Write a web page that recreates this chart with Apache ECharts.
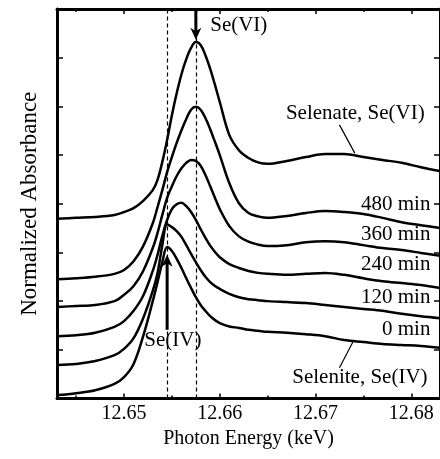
<!DOCTYPE html>
<html>
<head>
<meta charset="utf-8">
<script src="https://cdn.jsdelivr.net/npm/echarts@6/dist/echarts.min.js"></script>
<style>
html, body { margin: 0; padding: 0; background: #fff; }
#chart { width: 440px; height: 459px; }
</style>
</head>
<body>
<div id="chart"></div>
<script>
// photon energy (keV), shared by every spectrum
var energy = [12.643, 12.645, 12.647, 12.649, 12.650, 12.651, 12.652, 12.653, 12.6535, 12.654,
    12.6545, 12.655, 12.6555, 12.656, 12.6565, 12.657, 12.6575, 12.658, 12.6585, 12.659,
    12.6595, 12.660, 12.661, 12.662, 12.663, 12.664, 12.665, 12.667, 12.669, 12.671,
    12.673, 12.675, 12.677, 12.679, 12.681, 12.683];

// normalized absorbance, offset stacked
var selenate = [3.69, 3.71, 3.73, 3.77, 3.83, 3.91, 4.06, 4.28, 4.49, 4.86,
    5.31, 5.82, 6.27, 6.66, 6.97, 7.20, 7.32, 7.26, 7.05, 6.77,
    6.44, 6.09, 5.41, 5.10, 4.94, 4.85, 4.82, 4.88, 4.96, 5.02,
    5.02, 4.96, 4.90, 4.84, 4.75, 4.67];
var min480 = [2.45, 2.47, 2.50, 2.56, 2.64, 2.82, 3.13, 3.60, 3.93, 4.28,
    4.65, 4.96, 5.25, 5.51, 5.74, 5.93, 5.99, 5.93, 5.76, 5.53,
    5.27, 5.00, 4.42, 4.01, 3.81, 3.74, 3.71, 3.75, 3.81, 3.85,
    3.83, 3.79, 3.71, 3.62, 3.56, 3.50];
var min360 = [1.88, 1.90, 1.92, 2.00, 2.13, 2.31, 2.62, 3.09, 3.40, 3.77,
    4.12, 4.36, 4.57, 4.73, 4.84, 4.90, 4.88, 4.78, 4.59, 4.36,
    4.12, 3.89, 3.54, 3.33, 3.22, 3.16, 3.13, 3.15, 3.21, 3.23,
    3.21, 3.15, 3.09, 3.05, 2.99, 2.93];
var min240 = [1.28, 1.30, 1.35, 1.47, 1.59, 1.80, 2.11, 2.62, 2.95, 3.34,
    3.67, 3.89, 3.99, 4.02, 3.95, 3.83, 3.67, 3.48, 3.30, 3.14,
    3.01, 2.90, 2.76, 2.68, 2.62, 2.58, 2.56, 2.54, 2.56, 2.58,
    2.54, 2.47, 2.41, 2.37, 2.33, 2.27];
var min120 = [0.69, 0.71, 0.77, 0.89, 1.02, 1.24, 1.65, 2.21, 2.58, 3.15,
    3.58, 3.52, 3.44, 3.32, 3.15, 2.97, 2.80, 2.64, 2.50, 2.39,
    2.31, 2.25, 2.15, 2.08, 2.04, 2.02, 2.00, 1.98, 1.96, 1.92,
    1.88, 1.84, 1.80, 1.74, 1.69, 1.65];
var min0 = [0.07, 0.11, 0.17, 0.30, 0.44, 0.71, 1.28, 2.00, 2.39, 2.80,
    3.11, 3.03, 2.87, 2.68, 2.47, 2.27, 2.08, 1.92, 1.80, 1.69,
    1.61, 1.55, 1.48, 1.45, 1.41, 1.39, 1.37, 1.35, 1.32, 1.28,
    1.20, 1.16, 1.12, 1.10, 1.08, 1.04];

var majorTicks = [12.65, 12.66, 12.67, 12.68];
var minorTicks = [12.645, 12.655, 12.665, 12.675];
var se4Energy = 12.6545;
var se6Energy = 12.6575;

// annotation anchors in data units
var curveLabels = [
    ['Selenate, Se(VI)', 12.6814, 5.86, 'right'],
    ['480 min', 12.6820, 3.99, 'right'],
    ['360 min', 12.6820, 3.36, 'right'],
    ['240 min', 12.6820, 2.76, 'right'],
    ['120 min', 12.6820, 2.08, 'right'],
    ['0 min', 12.6820, 1.41, 'right'],
    ['Selenite, Se(IV)', 12.6817, 0.44, 'right'],
    ['Se(VI)', 12.6590, 7.67, 'left'],
    ['Se(IV)', 12.6551, 1.20, 'center']
];
var leaders = [
    [[12.6725, 5.62], [12.6741, 5.04]],
    [[12.6739, 1.16], [12.6725, 0.63]]
];
var arrows = [
    [se6Energy, 7.96, 7.37],
    [se4Energy, 1.41, 2.95]
];

var serif = '"Liberation Serif", "Times New Roman", serif';
var chart = echarts.init(document.getElementById('chart'));

function lineSeries(name, vals) {
    return {
        name: name,
        type: 'line',
        data: energy.map(function(e, i) { return [e, vals[i]]; }),
        showSymbol: false,
        smooth: 0.35,
        lineStyle: { color: '#000', width: 2.5 },
        z: 3
    };
}

function xAx(pos, ticks, len, showLine, labels) {
    return {
        type: 'value', position: pos, min: 12.643, max: 12.683,
        axisLine: { show: showLine, lineStyle: { color: '#000', width: 3 } },
        axisTick: { show: true, inside: true, length: len, customValues: ticks, lineStyle: { color: '#000', width: 1.5 } },
        axisLabel: labels ? {
            show: true, customValues: ticks, margin: 5, color: '#000',
            fontFamily: serif, fontSize: 20,
            formatter: function(v) { return v.toFixed(2); }
        } : { show: false },
        splitLine: { show: false }
    };
}

var xMain = xAx('bottom', majorTicks, 5, true, true);
xMain.name = 'Photon Energy (keV)';
xMain.nameLocation = 'middle';
xMain.nameGap = 29;
xMain.nameTextStyle = { color: '#000', fontFamily: serif, fontSize: 20 };

var first = lineSeries('Selenate', selenate);
first.markLine = {
    silent: true, symbol: ['none', 'none'], label: { show: false },
    lineStyle: { color: '#000', width: 1.2, type: [4, 3] },
    data: [
        [{ coord: [se4Energy, 0] }, { coord: [se4Energy, 8] }],
        [{ coord: [se6Energy, 0] }, { coord: [se6Energy, 8] }]
    ]
};

var option = {
    animation: false,
    backgroundColor: '#fff',
    grid: { left: 57, right: -2, top: 9, bottom: 60.5, containLabel: false },
    xAxis: [
        xMain,
        xAx('bottom', minorTicks, 3, false, false),
        xAx('top', majorTicks, 5, true, false),
        xAx('top', minorTicks, 3, false, false)
    ],
    yAxis: [{
        type: 'value', position: 'left', min: 0, max: 8, interval: 1,
        name: 'Normalized Absorbance', nameLocation: 'middle', nameGap: 16,
        nameTextStyle: { color: '#000', fontFamily: serif, fontSize: 23 },
        axisLine: { show: true, lineStyle: { color: '#000', width: 3 } },
        axisTick: { show: true, inside: true, length: 6, lineStyle: { color: '#000', width: 1.5 } },
        axisLabel: { show: false },
        splitLine: { show: false }
    }, {
        type: 'value', position: 'right', min: 0, max: 8, interval: 1,
        axisLine: { show: true, lineStyle: { color: '#000', width: 3 } },
        axisTick: { show: true, inside: true, length: 6, lineStyle: { color: '#000', width: 1.5 } },
        axisLabel: { show: false },
        splitLine: { show: false }
    }],
    series: [
        first,
        lineSeries('480 min', min480),
        lineSeries('360 min', min360),
        lineSeries('240 min', min240),
        lineSeries('120 min', min120),
        lineSeries('0 min', min0)
    ]
};
chart.setOption(option);

// annotations placed through the chart's own coordinate conversion
var g = [];
function toPx(x, y) { return chart.convertToPixel({ seriesIndex: 0 }, [x, y]); }
curveLabels.forEach(function(l) {
    var p = toPx(l[1], l[2]);
    g.push({
        type: 'text', x: p[0], y: p[1], z: 10,
        style: { text: l[0], fill: '#000', font: '21px ' + serif, align: l[3], verticalAlign: 'middle' }
    });
});
leaders.forEach(function(s) {
    var a = toPx(s[0][0], s[0][1]), b = toPx(s[1][0], s[1][1]);
    g.push({ type: 'line', z: 10, shape: { x1: a[0], y1: a[1], x2: b[0], y2: b[1] }, style: { stroke: '#000', lineWidth: 1.2 } });
});
arrows.forEach(function(ar) {
    var a = toPx(ar[0], ar[1]), b = toPx(ar[0], ar[2]);
    var dir = b[1] > a[1] ? 1 : -1;
    var headLen = 12, headW = 5.5;
    g.push({ type: 'line', z: 10, shape: { x1: a[0], y1: a[1], x2: b[0], y2: b[1] - dir * headLen * 0.6 }, style: { stroke: '#000', lineWidth: 3 } });
    g.push({
        type: 'polygon', z: 10,
        shape: { points: [[b[0], b[1]], [b[0] - headW, b[1] - dir * headLen], [b[0], b[1] - dir * headLen * 0.7], [b[0] + headW, b[1] - dir * headLen]] },
        style: { fill: '#000' }
    });
});
chart.setOption({ graphic: g });
</script>
</body>
</html>
